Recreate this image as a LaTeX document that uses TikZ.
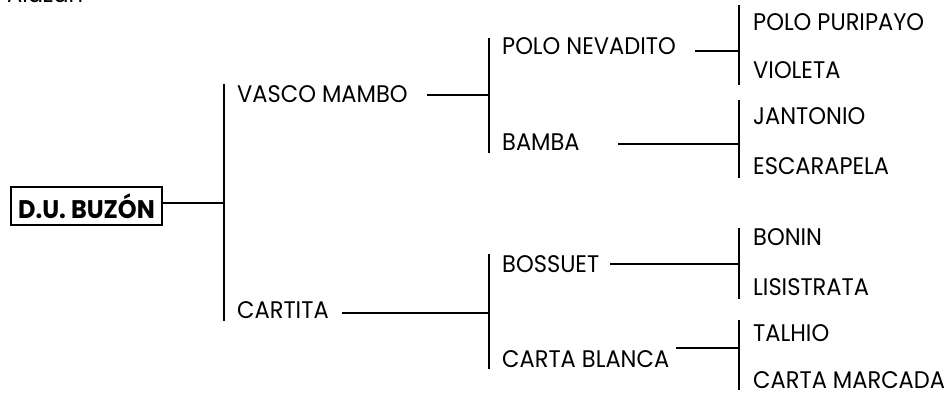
\documentclass[tikz,border=0pt]{standalone}
\usepackage{fontspec}
\setmainfont{Poppins}[FakeStretch=0.94]
\begin{document}
\begin{tikzpicture}[x=1pt,y=-1pt,
  lbl/.style={anchor=base west,inner sep=0pt,text depth=0pt,font=\fontsize{24}{26}\selectfont},
  rootbox/.style={draw,line width=1.4pt,inner sep=0pt,minimum width=151pt,minimum height=38pt,font=\fontsize{25.5}{27}\selectfont\bfseries},
  conn/.style={line width=1.8pt}]
\clip (0,0) rectangle (948,393);
\useasboundingbox (0,0) rectangle (948,393);
\node[lbl] (alazan) at (7,3) {Alazán};
\node[rootbox] (root) at (86.5,206) {D.U. BUZÓN};
% level 1
\node[lbl] (vasco) at (237,103) {VASCO MAMBO};
\node[lbl] (cartita) at (237,318) {CARTITA};
% level 2
\node[lbl] (polo) at (502,55) {POLO NEVADITO};
\node[lbl] (bamba) at (502,151) {BAMBA};
\node[lbl] (bossuet) at (502,272) {BOSSUET};
\node[lbl] (blanca) at (502,367) {CARTA BLANCA};
% level 3
\node[lbl] (puripayo) at (753,31) {POLO PURIPAYO};
\node[lbl] (violeta) at (753,79) {VIOLETA};
\node[lbl] (jantonio) at (753,125) {JANTONIO};
\node[lbl] (escarapela) at (753,175) {ESCARAPELA};
\node[lbl] (bonin) at (753,245) {BONIN};
\node[lbl] (lisistrata) at (753,295) {LISISTRATA};
\node[lbl] (talhio) at (753,341) {TALHIO};
\node[lbl] (marcada) at (753,388) {CARTA MARCADA};
% bars
\coordinate (b0) at (224,203);
\draw[conn] (224,84) -- (224,321);
\draw[conn] (root.east |- b0) -- (b0);
\coordinate (s1) at (427,95); \coordinate (e1) at (489,95);
\draw[conn] (489,38) -- (489,153);
\draw[conn] (s1) -- (e1);
\coordinate (s2) at (342,313); \coordinate (e2) at (489,313);
\draw[conn] (489,254) -- (489,369);
\draw[conn] (s2) -- (e2);
\coordinate (s3) at (695,51); \coordinate (e3) at (739,51);
\draw[conn] (739,5) -- (739,85);
\draw[conn] (s3) -- (e3);
\coordinate (s4) at (618,144); \coordinate (e4) at (739,144);
\draw[conn] (739,100) -- (739,178);
\draw[conn] (s4) -- (e4);
\coordinate (s5) at (610,264); \coordinate (e5) at (739,264);
\draw[conn] (739,228) -- (739,299);
\draw[conn] (s5) -- (e5);
\coordinate (s6) at (676,348); \coordinate (e6) at (739,348);
\draw[conn] (739,320) -- (739,390);
\draw[conn] (s6) -- (e6);
\end{tikzpicture}
\end{document}
